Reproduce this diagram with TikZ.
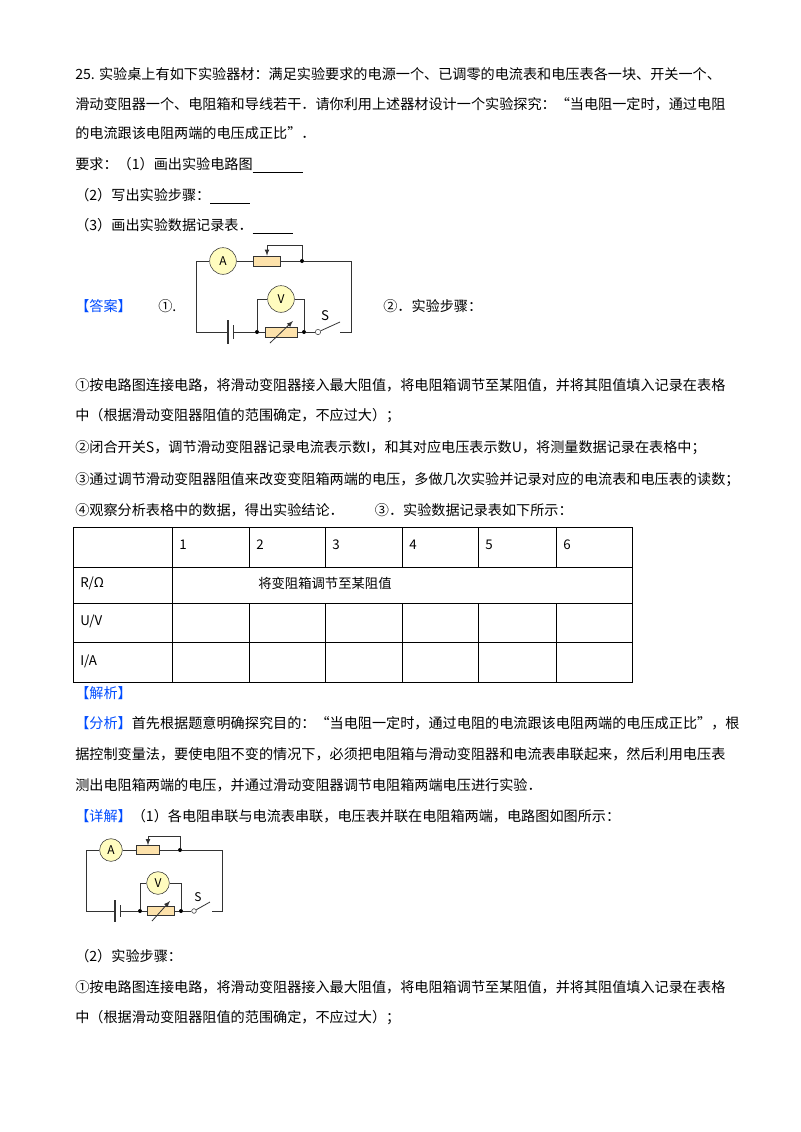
\documentclass[tikz,border=0pt]{standalone}
\usepackage{fontspec}
\setmainfont{Noto Sans CJK SC}
\begin{document}
\begin{tikzpicture}[x=0.75pt,y=-0.75pt,
  txt/.style={anchor=west,inner sep=0,font=\fontsize{10.6pt}{12pt}\selectfont},
  blu/.style={txt,text=blue!70!cyan},
  wire/.style={line width=0.6pt,color=black!80},
  meter/.style={circle,draw=black!80,fill=yellow!25,inner sep=0,minimum size=#1,font=\fontsize{9pt}{9pt}\selectfont},
  res/.style={draw=black!80,fill=yellow!30!orange!30},
  dot/.style={circle,fill=black,inner sep=0,minimum size=3pt},
  tl/.style={anchor=west,inner sep=0,font=\fontsize{10pt}{12pt}\selectfont}]
\useasboundingbox (0,0) rectangle (800,1132);
\fill[white] (0,0) rectangle (800,1132);
\node[txt] (l1) at (75,74) {25. 实验桌上有如下实验器材：满足实验要求的电源一个、已调零的电流表和电压表各一块、开关一个、};
\node[txt] (l2) at (75,104) {滑动变阻器一个、电阻箱和导线若干．请你利用上述器材设计一个实验探究：“当电阻一定时，通过电阻};
\node[txt] (l3) at (75,133) {的电流跟该电阻两端的电压成正比”．};
\node[txt] (l4) at (75,165) {要求：（1）画出实验电路图\rule[-2pt]{38pt}{0.5pt}};
\node[txt] (l5) at (75,196) {（2）写出实验步骤：\rule[-2pt]{30pt}{0.5pt}};
\node[txt] (l6) at (75,226) {（3）画出实验数据记录表．\rule[-2pt]{30pt}{0.5pt}};
\node[blu] (ans) at (75,306) {【答案】};
\node[txt] (c1) at (158,306) {①.};
\node[txt] (c2) at (383,306) {②．实验步骤：};
% circuit 1
\coordinate (a1) at (196,261); \coordinate (a2) at (351,261);
\coordinate (a3) at (351,332); \coordinate (a4) at (196,332);
\node[meter=20pt] (A1) at (223,261) {A};
\node[res,minimum width=27*0.75pt,minimum height=10*0.75pt,inner sep=0] (R1) at (267,261) {};
\node[dot] (j1) at (302,261) {};
\node[dot] (j2) at (257,332) {};
\node[dot] (j3) at (304,332) {};
\node[meter=20pt] (V1) at (281,299) {V};
\node[res,minimum width=32*0.75pt,minimum height=10*0.75pt,inner sep=0] (B1) at (281,332) {};
\node[circle,draw=black!80,fill=white,inner sep=0,minimum size=4pt] (s1) at (318,332) {};
\coordinate (s1e) at (340,322); \coordinate (s1r) at (340,332);
\node[inner sep=0,font=\fontsize{10pt}{10pt}\selectfont] (S1) at (325,316) {S};
\draw[wire] (a4) -- (a1) -- (A1) -- (R1) -- (j1) -- (a2) -- (a3) -- (s1r);
\draw[wire] (s1) -- (s1e);
\draw[wire] (s1) -- (j3) -- (B1) -- (j2) -- (233,332);
\draw[wire] (233,325) -- (233,339);
\draw[wire,line width=1.2pt] (228,320) -- (228,344);
\draw[wire] (228,332) -- (a4);
\draw[wire] (j1) -- (302,245) -- (267,245);
\draw[wire,-latex] (267,245) -- (R1.north);
\draw[wire] (j2) -- (257,299) -- (V1) -- (304,299) -- (j3);
\draw[wire,-latex] (270,343) -- (293,321);
% steps
\node[txt] (p1) at (75,385) {①按电路图连接电路，将滑动变阻器接入最大阻值，将电阻箱调节至某阻值，并将其阻值填入记录在表格};
\node[txt] (p2) at (75,416) {中（根据滑动变阻器阻值的范围确定，不应过大）；};
\node[txt] (p3) at (75,448) {②闭合开关S，调节滑动变阻器记录电流表示数I，和其对应电压表示数U，将测量数据记录在表格中；};
\node[txt] (p4) at (75,480) {③通过调节滑动变阻器阻值来改变变阻箱两端的电压，多做几次实验并记录对应的电流表和电压表的读数；};
\node[txt] (p5) at (75,510) {④观察分析表格中的数据，得出实验结论．\hspace{2.2em}③．实验数据记录表如下所示：};
% table
\draw[line width=0.6pt] (73,527) rectangle (632,682);
\foreach \y in {567,603,642} \draw[line width=0.6pt] (73,\y) -- (632,\y);
\draw[line width=0.6pt] (172,527) -- (172,682);
\foreach \x in {249,325,402,478,556} {\draw[line width=0.6pt] (\x,527) -- (\x,567); \draw[line width=0.6pt] (\x,603) -- (\x,682);}
\foreach \x/\n in {179/1,256/2,332/3,409/4,485/5,563/6} \node[tl] at (\x,545) {\n};
\node[tl] (tR) at (80,583) {R/Ω};
\node[tl] (tU) at (80,621) {U/V};
\node[tl] (tI) at (80,661) {I/A};
\node[tl] (tv) at (258,583) {将变阻箱调节至某阻值};
\node[blu] (jx) at (75,693) {【解析】};
\node[txt] (q1) at (75,723) {{\color{blue!70!cyan}【分析】}首先根据题意明确探究目的：“当电阻一定时，通过电阻的电流跟该电阻两端的电压成正比”，根};
\node[txt] (q2) at (75,754) {据控制变量法，要使电阻不变的情况下，必须把电阻箱与滑动变阻器和电流表串联起来，然后利用电压表};
\node[txt] (q3) at (75,785) {测出电阻箱两端的电压，并通过滑动变阻器调节电阻箱两端电压进行实验．};
\node[txt] (q4) at (75,816) {{\color{blue!70!cyan}【详解】}（1）各电阻串联与电流表串联，电压表并联在电阻箱两端，电路图如图所示：};
% circuit 2
\coordinate (b1) at (86,850); \coordinate (b2) at (222,850);
\coordinate (b3) at (222,911); \coordinate (b4) at (86,911);
\node[meter=17pt] (A2) at (111,850) {A};
\node[res,minimum width=23*0.75pt,minimum height=9*0.75pt,inner sep=0] (R2) at (148,850) {};
\node[dot] (k1) at (180,850) {};
\node[dot] (k2) at (140,911) {};
\node[dot] (k3) at (181,911) {};
\node[meter=17pt] (V2) at (158,883) {V};
\node[res,minimum width=27*0.75pt,minimum height=9*0.75pt,inner sep=0] (B2) at (161,911) {};
\node[circle,draw=black!80,fill=white,inner sep=0,minimum size=3.5pt] (s2) at (194,911) {};
\coordinate (s2e) at (210,902); \coordinate (s2r) at (212,911);
\node[inner sep=0,font=\fontsize{9pt}{9pt}\selectfont] (S2) at (198,897) {S};
\draw[wire] (b4) -- (b1) -- (A2) -- (R2) -- (k1) -- (b2) -- (b3) -- (s2r);
\draw[wire] (s2) -- (s2e);
\draw[wire] (s2) -- (k3) -- (B2) -- (k2) -- (120,911);
\draw[wire] (120,905) -- (120,917);
\draw[wire,line width=1.1pt] (115,900) -- (115,922);
\draw[wire] (115,911) -- (b4);
\draw[wire] (k1) -- (180,836) -- (148,836);
\draw[wire,-latex] (148,836) -- (R2.north);
\draw[wire] (k2) -- (140,883) -- (V2) -- (181,883) -- (k3);
\draw[wire,-latex] (152,921) -- (170,901);
\node[txt] (r1) at (75,956) {（2）实验步骤：};
\node[txt] (r2) at (75,987) {①按电路图连接电路，将滑动变阻器接入最大阻值，将电阻箱调节至某阻值，并将其阻值填入记录在表格};
\node[txt] (r3) at (75,1018) {中（根据滑动变阻器阻值的范围确定，不应过大）；};
\end{tikzpicture}
\end{document}
